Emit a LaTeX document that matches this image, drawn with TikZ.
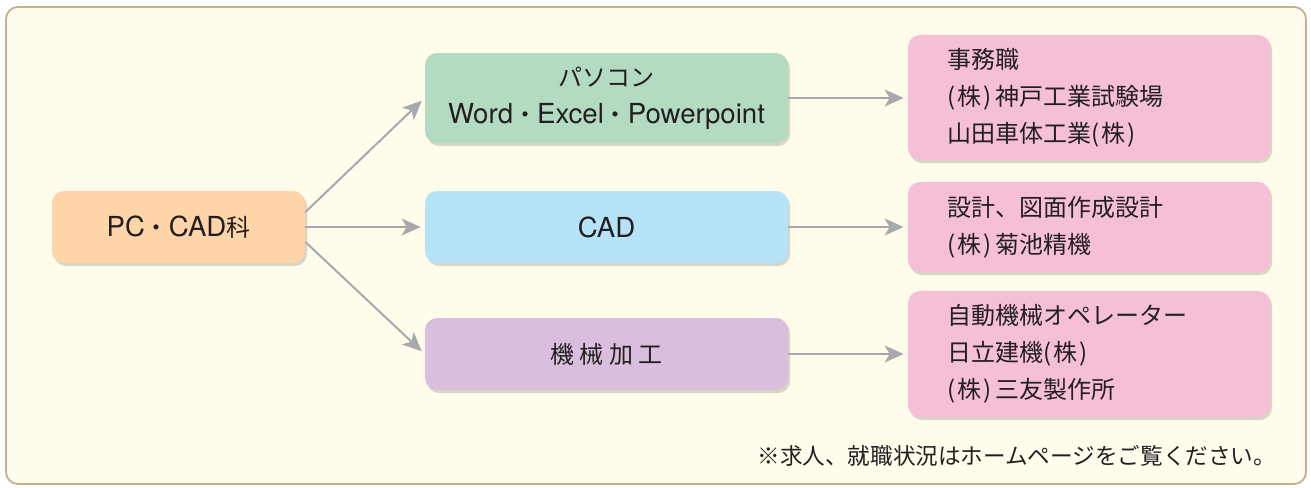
\documentclass[tikz,border=0pt]{standalone}
\usepackage{fontspec}
\setmainfont{Noto Sans CJK JP}
\newfontfamily\latinfont[Scale=1.15]{TeX Gyre Heros}
\usetikzlibrary{shadows,arrows.meta}

\definecolor{framefill}{HTML}{FFFCEB}
\definecolor{frameline}{HTML}{C4B08F}
\definecolor{pcadfill}{HTML}{FDD5A8}
\definecolor{pcfill}{HTML}{B2DBC2}
\definecolor{cadfill}{HTML}{B6E3F7}
\definecolor{kikaifill}{HTML}{D9BEDD}
\definecolor{jobfill}{HTML}{F6BFD8}
\definecolor{arrowgray}{HTML}{A7A9AC}
\definecolor{textdark}{HTML}{231F20}

\newcommand{\kabu}{(\kern1.2pt 株\kern1.2pt)\kern1.5pt}

\tikzset{
	coursebox/.style={shape=rectangle, rounded corners=6pt, fill=#1, draw=none, text=textdark,
		align=center, font=\fontsize{12}{18.5}\selectfont,
		drop shadow={shadow xshift=1pt, shadow yshift=-1.5pt, opacity=0.25, fill=black!60}},
	jobbox/.style={coursebox=jobfill, align=left, text width=142pt, inner xsep=19.5pt,
		minimum width=181pt},
	flowarrow/.style={draw=arrowgray, line width=1pt, shorten >=2pt,
		-{Stealth[length=9.5pt, width=8.5pt, inset=2.5pt]}}
}

\begin{document}
\begin{tikzpicture}[x=0.5pt, y=-0.5pt]
		% Frame:
		\useasboundingbox (0,0) rectangle (1311,487);
		\draw[frameline, fill=framefill, line width=0.9pt, rounded corners=6pt] (6,7) rectangle (1306,484);
		% Boxes:
		\node[coursebox=pcadfill, minimum width=126.5pt, minimum height=36pt] (pcad) at (178.5,227){{\latinfont PC}・{\latinfont CAD}科};
		\node[coursebox=pcfill, minimum width=181.5pt, minimum height=45pt] (pc) at (606.5,98){パソコン\\{\latinfont Word}・{\latinfont Excel}・{\latinfont Powerpoint}};
		\node[coursebox=cadfill, minimum width=181.5pt, minimum height=36pt] (cad) at (606.5,227){\latinfont CAD};
		\node[coursebox=kikaifill, minimum width=181.5pt, minimum height=36pt] (kikai) at (606.5,354){機 械 加 工};
		\node[jobbox, minimum height=62.5pt] (job1) at (1089,97.5){事務職\\\kabu 神戸工業試験場\\山田車体工業\kabu};
		\node[jobbox, minimum height=45pt] (job2) at (1089,227){設計、図面作成設計\\\kabu 菊池精機};
		\node[jobbox, minimum height=63pt] (job3) at (1089,354){自動機械オペレーター\\日立建機\kabu\\\kabu 三友製作所};
		\node[anchor=west, text=textdark, font=\fontsize{11.3}{13}\selectfont, inner sep=0pt] (note) at (757,456){※求人、就職状況はホームページをご覧ください。};
		% Arrows:
		\draw[flowarrow] ([yshift=7.5pt]pcad.east) -- (pc.west);
		\draw[flowarrow] (pcad.east) -- (cad.west);
		\draw[flowarrow] ([yshift=-7.5pt]pcad.east) -- (kikai.west);
		\draw[flowarrow] (pc.east) -- (pc.east -| job1.west);
		\draw[flowarrow] (cad.east) -- (cad.east -| job2.west);
		\draw[flowarrow] (kikai.east) -- (kikai.east -| job3.west);
	\end{tikzpicture}
\end{document}
